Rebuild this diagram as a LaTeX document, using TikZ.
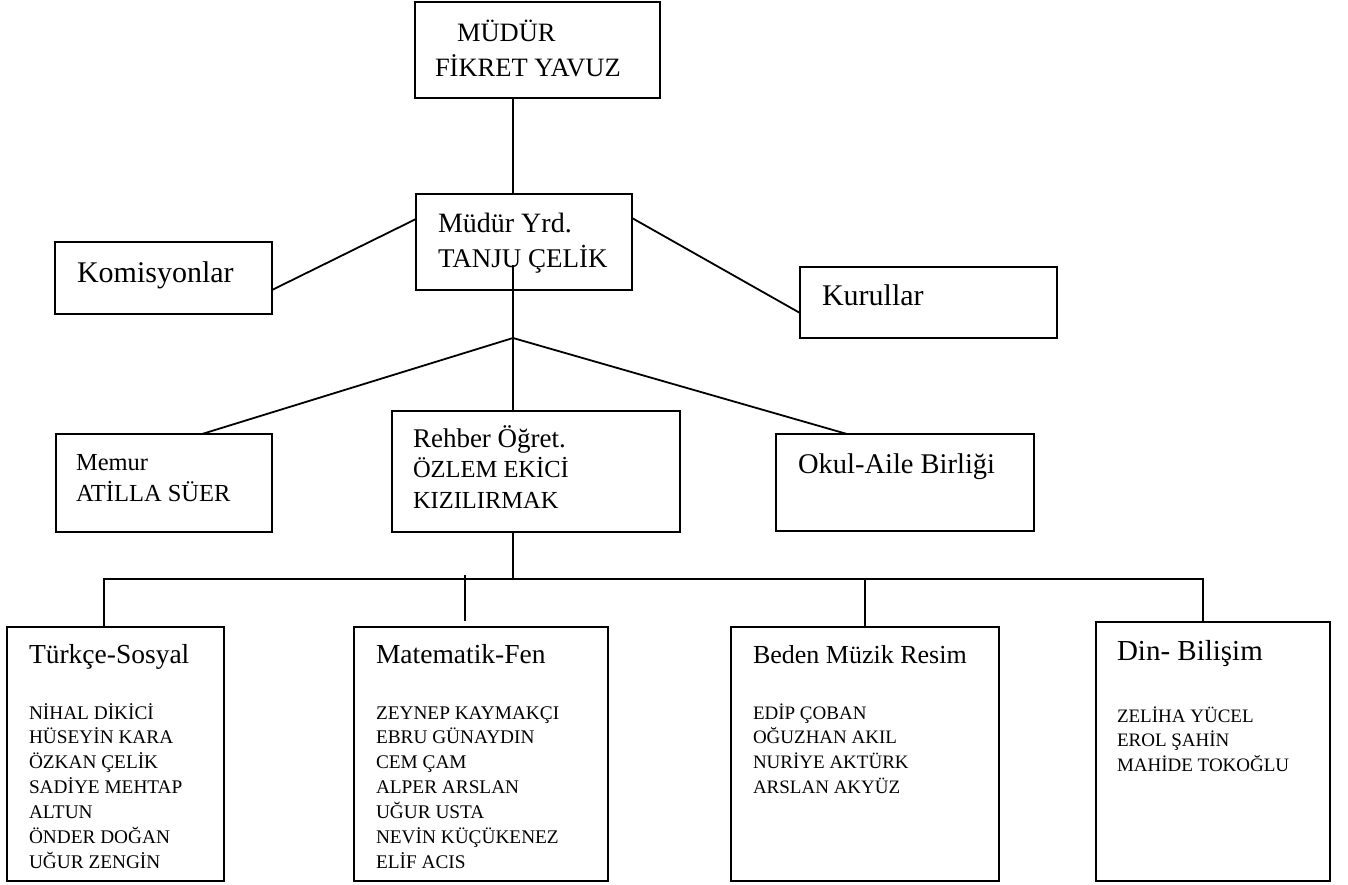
\documentclass[tikz,border=0pt]{standalone}
\usepackage{fontspec}
\setmainfont{Liberation Serif}
\begin{document}
\begin{tikzpicture}[x=1pt,y=-1pt,
  ln/.style={line width=1.8pt},
  bx/.style 2 args={draw,line width=1.8pt,inner sep=0pt,outer sep=0pt,minimum width=#1pt,minimum height=#2pt},
  txt/.style={anchor=base west,inner sep=0pt,outer sep=0pt}]
\useasboundingbox[fill=white] (0,0) rectangle (1348,885);
% boxes
\node[bx={245}{96}] (mud) at (537.5,50) {};
\node[bx={216}{96}] (yrd) at (524,242) {};
\node[bx={217}{72}] (kom) at (163.5,278) {};
\node[bx={257}{71}] (kur) at (928.5,302.5) {};
\node[bx={216}{98}] (mem) at (164,483) {};
\node[bx={288}{121}] (reh) at (536,471.5) {};
\node[bx={258}{97}] (oku) at (905,482.5) {};
\node[bx={217}{254}] (tur) at (115.5,754) {};
\node[bx={254}{254}] (mat) at (481,754) {};
\node[bx={268}{254}] (bed) at (865,754) {};
\node[bx={234}{259}] (din) at (1213,751.5) {};
% coordinates
\coordinate (apex) at (513,338);
\coordinate (ystub) at (513,265);
\coordinate (bus) at (513,579);
\coordinate (s1) at (465,575);
\coordinate (s2) at (465,621);
% connectors
\draw[ln] (apex |- mud.south) -- (apex |- yrd.north);
\draw[ln] ([yshift=-12pt]kom.east) -- ([yshift=23pt]yrd.west);
\draw[ln] ([yshift=24pt]yrd.east) -- ([yshift=-10.5pt]kur.west);
\draw[ln] (ystub) -- (apex);
\draw[ln] (apex) -- ([xshift=38pt]mem.north);
\draw[ln] (apex) -- (apex |- reh.north);
\draw[ln] (apex) -- ([xshift=-58pt]oku.north);
\draw[ln] (apex |- reh.south) -- (bus);
\draw[ln] ([xshift=-11.5pt]tur.north) |- ([xshift=-10pt]din.north |- bus) -- ([xshift=-10pt]din.north);
\draw[ln] (bed.north) -- (bed.north |- bus);
\draw[ln] (s1) -- (s2);
% texts
\node[txt,font=\fontsize{26.5}{30}\selectfont] (t1) at (457,42) {MÜDÜR};
\node[txt,font=\fontsize{26.5}{30}\selectfont] (t2) at (435,77) {FİKRET YAVUZ};
\node[txt,font=\fontsize{28}{30}\selectfont] (t3) at (438,233) {Müdür Yrd.};
\node[txt,font=\fontsize{27}{30}\selectfont] (t4) at (438,267) {TANJU ÇELİK};
\node[txt,font=\fontsize{30}{34}\selectfont] (t5) at (77,282) {Komisyonlar};
\node[txt,font=\fontsize{30}{34}\selectfont] (t6) at (822,305) {Kurullar};
\node[txt,font=\fontsize{24.5}{28}\selectfont] (t7) at (76,470) {Memur};
\node[txt,font=\fontsize{24.5}{28}\selectfont] (t8) at (76,501) {ATİLLA SÜER};
\node[txt,font=\fontsize{27}{28}\selectfont] (t9) at (413,447) {Rehber Öğret.};
\node[txt,font=\fontsize{24.5}{28}\selectfont] (t10) at (413,477) {ÖZLEM EKİCİ};
\node[txt,font=\fontsize{24.5}{28}\selectfont] (t11) at (413,508) {KIZILIRMAK};
\node[txt,font=\fontsize{28.5}{32}\selectfont] (t12) at (798,473) {Okul-Aile Birliği};
\node[txt,font=\fontsize{27.5}{30}\selectfont] (t13) at (29,663) {Türkçe-Sosyal};
\node[txt,font=\fontsize{27.5}{30}\selectfont] (t14) at (376,663) {Matematik-Fen};
\node[txt,font=\fontsize{26}{30}\selectfont] (t15) at (753,663) {Beden Müzik Resim};
\node[txt,font=\fontsize{29}{32}\selectfont] (t16) at (1117,660) {Din- Bilişim};
\foreach \n [count=\i] in {NİHAL DİKİCİ,HÜSEYİN KARA,ÖZKAN ÇELİK,SADİYE MEHTAP,ALTUN,ÖNDER DOĞAN,UĞUR ZENGİN}
  \node[txt,font=\fontsize{19.3}{22}\selectfont] (ta\i) at (29,719+24.9*\i-24.9) {\n};
\foreach \n [count=\i] in {ZEYNEP KAYMAKÇI,EBRU GÜNAYDIN,CEM ÇAM,ALPER ARSLAN,UĞUR USTA,NEVİN KÜÇÜKENEZ,ELİF ACIS}
  \node[txt,font=\fontsize{19.3}{22}\selectfont] (tb\i) at (376,719+24.9*\i-24.9) {\n};
\foreach \n [count=\i] in {EDİP ÇOBAN,OĞUZHAN AKIL,NURİYE AKTÜRK,ARSLAN AKYÜZ}
  \node[txt,font=\fontsize{19}{22}\selectfont] (tc\i) at (753,719+24.9*\i-24.9) {\n};
\foreach \n [count=\i] in {ZELİHA YÜCEL,EROL ŞAHİN,MAHİDE TOKOĞLU}
  \node[txt,font=\fontsize{19}{22}\selectfont] (td\i) at (1117,722+24.6*\i-24.6) {\n};
\end{tikzpicture}
\end{document}
